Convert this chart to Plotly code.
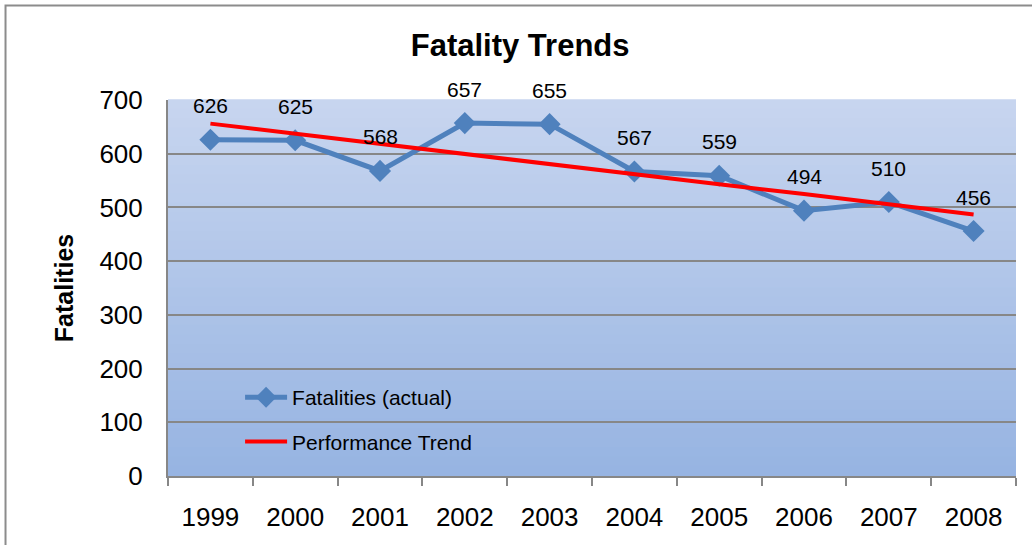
import plotly.graph_objects as go

years = ["1999", "2000", "2001", "2002", "2003", "2004", "2005", "2006", "2007", "2008"]
fatalities = [626, 625, 568, 657, 655, 567, 559, 494, 510, 456]
trend = [656, 637, 618, 600, 581, 562, 543, 525, 506, 487]
y_ticks = [0, 100, 200, 300, 400, 500, 600, 700]

FONT = "Liberation Sans, Arial, sans-serif"
BLUE = "#4F81BD"
RED = "#FF0000"
GRID = "#878787"

fig = go.Figure()
fig.add_trace(go.Scatter(
    x=years, y=fatalities, name="Fatalities (actual)", mode="lines+markers",
    line=dict(color=BLUE, width=5), marker=dict(symbol="diamond", size=17, color=BLUE),
    legendgroup="a"))
fig.add_trace(go.Scatter(
    x=years, y=trend, name="Performance Trend", mode="lines",
    line=dict(color=RED, width=4), legendgroup="b"))

# data labels (category index positions)
for i, v in enumerate(fatalities):
    fig.add_annotation(x=i, y=v, xref="x", yref="y", text=str(v), showarrow=False, yshift=34,
                       font=dict(family=FONT, size=21, color="#000"))

# gradient background of plot area
shapes = []
n = 40
top = (199, 213, 239)
bot = (151, 180, 226)
for i in range(n):
    t = i / (n - 1)
    c = tuple(round(top[k] + (bot[k] - top[k]) * t) for k in range(3))
    shapes.append(dict(type="rect", xref="x domain", yref="y domain",
                       x0=0, x1=1, y0=1 - (i + 1) / n, y1=1 - i / n + 0.002,
                       fillcolor="rgb(%d,%d,%d)" % c, line=dict(width=0), layer="below"))
# chart border
shapes.append(dict(type="rect", xref="paper", yref="paper",
                   x0=-0.1916, x1=1.05, y0=-0.4, y1=1.2513,
                   line=dict(color="#8C8C8C", width=2), fillcolor="rgba(0,0,0,0)", layer="above"))

fig.update_layout(
    width=1032, height=545,
    margin=dict(l=168, r=16, t=100, b=69),
    paper_bgcolor="white", plot_bgcolor="rgba(0,0,0,0)",
    font=dict(family=FONT, color="#000"),
    title=dict(text="<b>Fatality Trends</b>", x=0.504, xref="container", xanchor="center",
               y=1 - 45 / 545, yref="container", yanchor="middle",
               font=dict(family=FONT, size=31, color="#000")),
    shapes=shapes,
    showlegend=True,
    legend=dict(x=0.085, y=0.263, xanchor="left", yanchor="top", bgcolor="rgba(0,0,0,0)",
                font=dict(family=FONT, size=21, color="#000"), traceorder="grouped",
                tracegroupgap=14, itemwidth=42),
    xaxis=dict(type="category", range=[-0.5, 9.5], showgrid=False,
               showline=True, linecolor=GRID, linewidth=2,
               ticks="outside", tickson="boundaries", ticklen=8, tickcolor=GRID, tickwidth=2,
               tickfont=dict(family=FONT, size=26, color="#000"), ticklabelstandoff=17,
               fixedrange=True),
    yaxis=dict(range=[0, 700], tickvals=y_ticks, showgrid=True, gridcolor=GRID, gridwidth=2,
               showline=True, linecolor=GRID, linewidth=2, ticks="", zeroline=False,
               tickfont=dict(family=FONT, size=26, color="#000"), ticklabelstandoff=18,
               title=dict(text="<b>Fatalities</b>", font=dict(family=FONT, size=25, color="#000"),
                          standoff=19),
               automargin=False, fixedrange=True),
)

fig.write_html("out.html", config={"displayModeBar": False},
               post_script="document.body.style.margin='0';")
